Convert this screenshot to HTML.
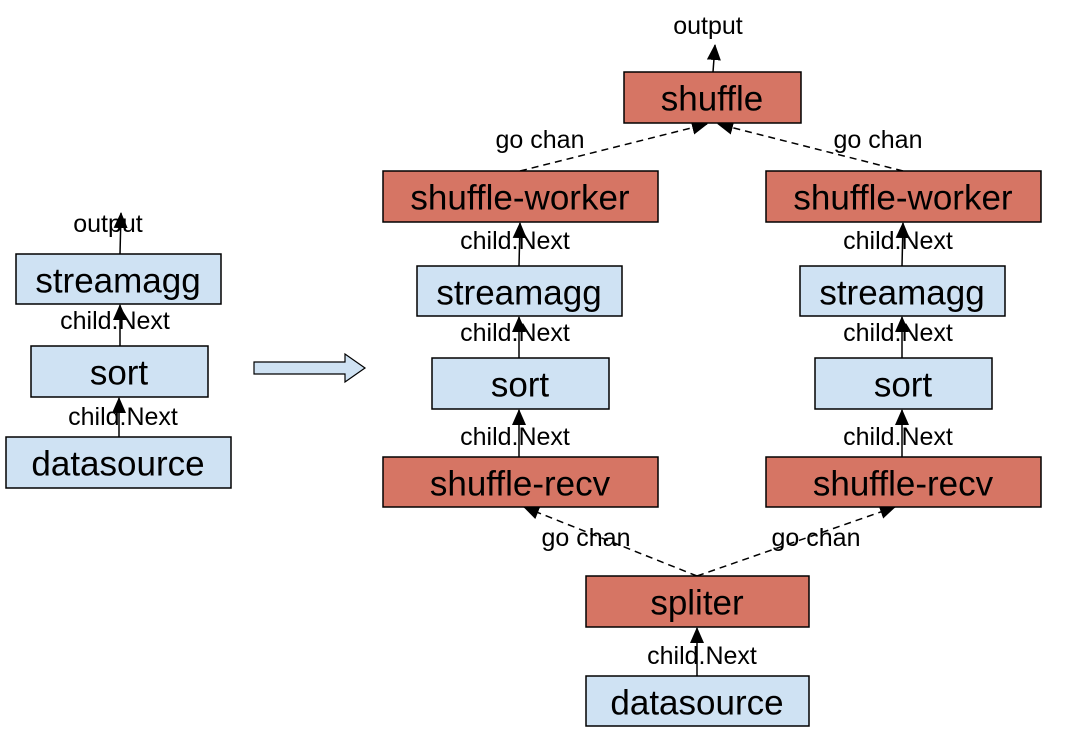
<!DOCTYPE html>
<html><head><meta charset="utf-8"><style>
html,body{margin:0;padding:0;background:#fff;width:1070px;height:738px;overflow:hidden}
svg text{font-family:"Liberation Sans",Arial,sans-serif;fill:#000}
.b{fill:#cfe2f3;stroke:#000;stroke-width:1.5}
.r{fill:#d67564;stroke:#000;stroke-width:1.5}
.t{font-size:35px;text-anchor:middle;dominant-baseline:central}
.l{font-size:25px;text-anchor:middle;dominant-baseline:central}
.ln{stroke:#000;stroke-width:1.5;fill:none}
.d{stroke:#000;stroke-width:1.5;fill:none;stroke-dasharray:7,5}
</style></head><body>
<svg width="1070" height="738" viewBox="0 0 1070 738" xmlns="http://www.w3.org/2000/svg">
<defs>
<marker id="A" markerWidth="16" markerHeight="14" refX="15" refY="7" orient="auto" markerUnits="userSpaceOnUse" viewBox="0 0 16 14"><path d="M0,0 L16,7 L0,14 z" fill="#000"/></marker></defs>

<!-- left -->
<line class="ln" x1="120" y1="254" x2="121" y2="213" marker-end="url(#A)"/>
<line class="ln" x1="120" y1="346" x2="120" y2="305" marker-end="url(#A)"/>
<line class="ln" x1="119" y1="437" x2="119" y2="398" marker-end="url(#A)"/>
<rect class="b" x="16" y="254" width="205" height="50"/><text class="t" x="118" y="281">streamagg</text>
<rect class="b" x="31" y="346" width="177" height="51"/><text class="t" x="119" y="373">sort</text>
<rect class="b" x="6" y="437" width="225" height="51"/><text class="t" x="118" y="464">datasource</text>
<text class="l" x="108" y="224">output</text>
<text class="l" x="115" y="321">child.Next</text>
<text class="l" x="123" y="417">child.Next</text>

<!-- big arrow -->
<path d="M254,362 L345,362 L345,354 L365,368 L345,382 L345,374 L254,374 z" fill="#cfe2f3" stroke="#000" stroke-width="1.2"/>

<!-- connectors right -->
<line class="ln" x1="713" y1="72" x2="715" y2="45" marker-end="url(#A)"/>
<line class="d" x1="520" y1="171" x2="707" y2="124" marker-end="url(#A)"/>
<line class="d" x1="903" y1="171" x2="718" y2="124" marker-end="url(#A)"/>
<line class="d" x1="697" y1="576" x2="524" y2="507" marker-end="url(#A)"/>
<line class="d" x1="697" y1="576" x2="895" y2="507" marker-end="url(#A)"/>
<g>
<line class="ln" x1="519" y1="266" x2="520" y2="223" marker-end="url(#A)"/>
<line class="ln" x1="519" y1="358" x2="519" y2="317" marker-end="url(#A)"/>
<line class="ln" x1="519" y1="457" x2="519" y2="410" marker-end="url(#A)"/>
<line class="ln" x1="902" y1="266" x2="903" y2="223" marker-end="url(#A)"/>
<line class="ln" x1="902" y1="358" x2="902" y2="317" marker-end="url(#A)"/>
<line class="ln" x1="902" y1="457" x2="902" y2="410" marker-end="url(#A)"/>
<line class="ln" x1="697" y1="676" x2="697" y2="628" marker-end="url(#A)"/>
</g>

<rect class="r" x="624" y="72" width="177" height="51"/><text class="t" x="712" y="99">shuffle</text>
<rect class="r" x="383" y="171" width="275" height="51"/><text class="t" x="520" y="198">shuffle-worker</text>
<rect class="r" x="766" y="171" width="275" height="51"/><text class="t" x="903" y="198">shuffle-worker</text>
<rect class="b" x="417" y="266" width="205" height="50"/><text class="t" x="519" y="293">streamagg</text>
<rect class="b" x="800" y="266" width="205" height="50"/><text class="t" x="902" y="293">streamagg</text>
<rect class="b" x="432" y="358" width="177" height="51"/><text class="t" x="520" y="385">sort</text>
<rect class="b" x="815" y="358" width="177" height="51"/><text class="t" x="903" y="385">sort</text>
<rect class="r" x="383" y="457" width="275" height="50"/><text class="t" x="520" y="484">shuffle-recv</text>
<rect class="r" x="766" y="457" width="275" height="50"/><text class="t" x="903" y="484">shuffle-recv</text>
<rect class="r" x="586" y="576" width="223" height="51"/><text class="t" x="697" y="603">spliter</text>
<rect class="b" x="586" y="676" width="223" height="50"/><text class="t" x="697" y="703">datasource</text>

<text class="l" x="708" y="26">output</text>
<text class="l" x="540" y="140">go chan</text>
<text class="l" x="878" y="140">go chan</text>
<text class="l" x="586" y="538">go chan</text>
<text class="l" x="816" y="538">go chan</text>
<text class="l" x="515" y="241">child.Next</text>
<text class="l" x="515" y="333">child.Next</text>
<text class="l" x="515" y="437">child.Next</text>
<text class="l" x="898" y="241">child.Next</text>
<text class="l" x="898" y="333">child.Next</text>
<text class="l" x="898" y="437">child.Next</text>
<text class="l" x="702" y="656">child.Next</text>
</svg>
</body></html>
